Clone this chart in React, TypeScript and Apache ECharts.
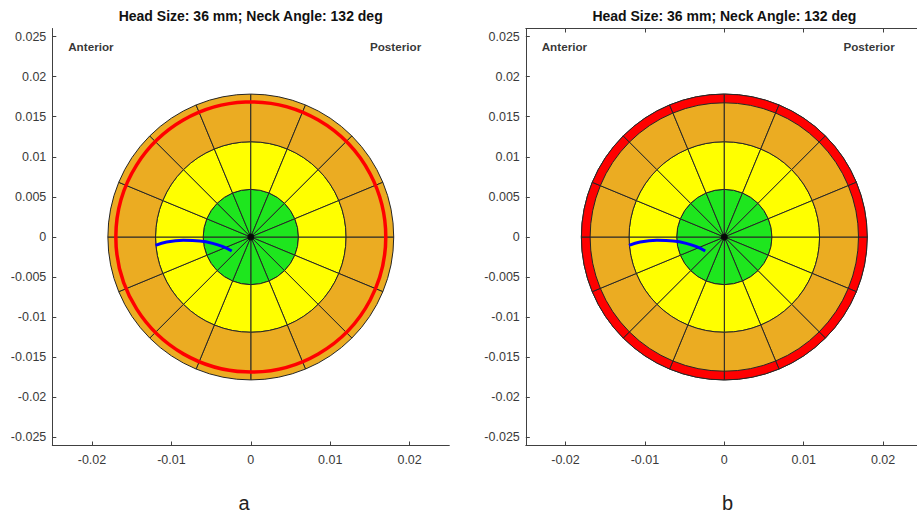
import { useEffect, useRef } from 'react';
import * as echarts from 'echarts';

// ---- data ----
const xTicks = [-0.02, -0.01, 0, 0.01, 0.02];
const yTicks = [-0.025, -0.02, -0.015, -0.01, -0.005, 0, 0.005, 0.01, 0.015, 0.02, 0.025];
const xRange = [-0.025, 0.025];
const yRange = [-0.026, 0.026];

const ringInner = [0, 0.006, 0.012];
const ringOuter = [0.006, 0.012, 0.018];
const ringColors = ['#1EE61E', '#FFFF00', '#EBAC22'];
const spokeAngles = [0, 22.5, 45, 67.5, 90, 112.5, 135, 157.5, 180, 202.5, 225, 247.5, 270, 292.5, 315, 337.5, 360];

const contactRadiusA = [0.017];
const contactBandB = [0.0169, 0.018];
const contactColor = ['#FF0000'];

const pathX = [-0.012, -0.0106, -0.0085, -0.0064, -0.0048, -0.0035, -0.0024];
const pathY = [-0.00104, -0.00063, -0.00042, -0.0005, -0.00079, -0.00121, -0.00175];

const titleText = 'Head Size: 36 mm; Neck Angle: 132 deg';
const annotText = ['Anterior', 'Posterior'];
const annotX = [-0.023, 0.015];
const annotY = 0.0238;
const panelLabels = ['a', 'b'];

const FONT = '"Liberation Sans", Arial, Helvetica, sans-serif';
const AXIS_COLOR = '#404040';

function sectorData(inner: number[], outer: number[]) {
  const out: number[][] = [];
  for (let i = 0; i < inner.length; i++) {
    for (let j = 0; j < spokeAngles.length - 1; j++) {
      out.push([inner[i], outer[i], spokeAngles[j], spokeAngles[j + 1], i]);
    }
  }
  return out;
}

const sectorRender = (colors: string[]) => (_params: any, api: any) => {
  const c = api.coord([0, 0]);
  const r0 = api.size([api.value(0), 0])[0];
  const r1 = api.size([api.value(1), 0])[0];
  const a0 = (api.value(2) * Math.PI) / 180;
  const a1 = (api.value(3) * Math.PI) / 180;
  return {
    type: 'sector',
    shape: { cx: c[0], cy: c[1], r0, r: r1, startAngle: a0, endAngle: a1, clockwise: true },
    style: { fill: colors[api.value(4)], stroke: '#262626', lineWidth: 1 },
  };
};

const circleRender = (_params: any, api: any) => {
  const c = api.coord([0, 0]);
  const r = api.size([api.value(0), 0])[0];
  return {
    type: 'circle',
    shape: { cx: c[0], cy: c[1], r },
    style: { fill: 'none', stroke: contactColor[0], lineWidth: 3.5 },
  };
};

function mkX(gridIndex: number, position: string, showLabel: boolean) {
  return {
    type: 'value',
    gridIndex,
    position,
    min: xRange[0],
    max: xRange[1],
    axisLine: { show: true, onZero: false, lineStyle: { color: AXIS_COLOR, width: 1 } },
    axisTick: { show: true, inside: true, length: 4, customValues: xTicks, lineStyle: { color: AXIS_COLOR } },
    axisLabel: { show: showLabel, customValues: xTicks, margin: 8, fontSize: 12.5, color: '#3a3a3a', fontFamily: FONT },
    splitLine: { show: false },
  };
}

function mkY(gridIndex: number, position: string, showLabel: boolean) {
  return {
    type: 'value',
    gridIndex,
    position,
    min: yRange[0],
    max: yRange[1],
    axisLine: { show: true, onZero: false, lineStyle: { color: AXIS_COLOR, width: 1 } },
    axisTick: { show: true, inside: true, length: 4, customValues: yTicks, lineStyle: { color: AXIS_COLOR } },
    axisLabel: { show: showLabel, customValues: yTicks, margin: 6, fontSize: 12.5, color: '#3a3a3a', fontFamily: FONT },
    splitLine: { show: false },
  };
}

function panelSeries(xi: number, yi: number, withBand: boolean) {
  const s: any[] = [
    {
      type: 'custom',
      xAxisIndex: xi,
      yAxisIndex: yi,
      renderItem: sectorRender(ringColors),
      data: sectorData(ringInner, ringOuter),
      z: 1,
      silent: true,
    },
  ];
  if (withBand) {
    s.push({
      type: 'custom',
      xAxisIndex: xi,
      yAxisIndex: yi,
      renderItem: sectorRender(contactColor),
      data: sectorData([contactBandB[0]], [contactBandB[1]]),
      z: 2,
      silent: true,
    });
  } else {
    s.push({
      type: 'custom',
      xAxisIndex: xi,
      yAxisIndex: yi,
      renderItem: circleRender,
      data: contactRadiusA.map((r) => [r]),
      z: 2,
      silent: true,
    });
  }
  s.push({
    type: 'line',
    xAxisIndex: xi,
    yAxisIndex: yi,
    data: pathX.map((x, i) => [x, pathY[i]]),
    smooth: 0.4,
    showSymbol: false,
    lineStyle: { color: '#0000FF', width: 3 },
    z: 3,
    silent: true,
  });
  s.push({
    type: 'scatter',
    xAxisIndex: xi,
    yAxisIndex: yi,
    data: [[0, 0]],
    symbolSize: 7,
    itemStyle: { color: '#000' },
    z: 4,
    silent: true,
  });
  s.push({
    type: 'scatter',
    xAxisIndex: xi,
    yAxisIndex: yi,
    data: annotX.map((x, i) => [x, annotY, annotText[i]]),
    symbolSize: 0,
    z: 5,
    silent: true,
    label: {
      show: true,
      position: 'right',
      distance: 0,
      formatter: (p: any) => p.value[2],
      fontFamily: FONT,
      fontWeight: 'bold',
      fontSize: 11.7,
      color: '#000',
    },
  });
  return s;
}

export default function App() {
  const ref = useRef<HTMLDivElement>(null);
  useEffect(() => {
    if (!ref.current) return;
    const chart = echarts.init(ref.current, undefined, { renderer: 'svg' });
    const gridH = 417;
    const gridW = 397;
    chart.setOption({
      animation: false,
      backgroundColor: '#fff',
      grid: [
        { left: 52.3, top: 28.5, width: gridW, height: gridH, containLabel: false, outerBoundsMode: 'none' },
        { left: 525.8, top: 28.5, width: gridW, height: gridH, containLabel: false, outerBoundsMode: 'none' },
      ],
      xAxis: [mkX(0, 'bottom', true), mkX(1, 'bottom', true), mkX(1, 'top', false)],
      yAxis: [mkY(0, 'left', true), mkY(1, 'left', true), mkY(1, 'right', false)],
      series: [...panelSeries(0, 0, false), ...panelSeries(1, 1, true)],
      graphic: [
        {
          type: 'text',
          x: 250.7,
          y: 15.6,
          style: { text: titleText, fontFamily: FONT, fontWeight: 'bold', fontSize: 14, fill: '#111', align: 'center', verticalAlign: 'middle' },
        },
        {
          type: 'text',
          x: 724.4,
          y: 15.6,
          style: { text: titleText, fontFamily: FONT, fontWeight: 'bold', fontSize: 14, fill: '#111', align: 'center', verticalAlign: 'middle' },
        },
        {
          type: 'text',
          x: 244,
          y: 503,
          style: { text: panelLabels[0], fontFamily: FONT, fontSize: 20, fill: '#222', align: 'center', verticalAlign: 'middle' },
        },
        {
          type: 'text',
          x: 727.5,
          y: 503,
          style: { text: panelLabels[1], fontFamily: FONT, fontSize: 20, fill: '#222', align: 'center', verticalAlign: 'middle' },
        },
      ],
    });
    return () => chart.dispose();
  }, []);
  return (
    <div
      ref={ref}
      style={{ position: 'absolute', left: 0, top: 0, width: 917, height: 515 }}
    />
  );
}
